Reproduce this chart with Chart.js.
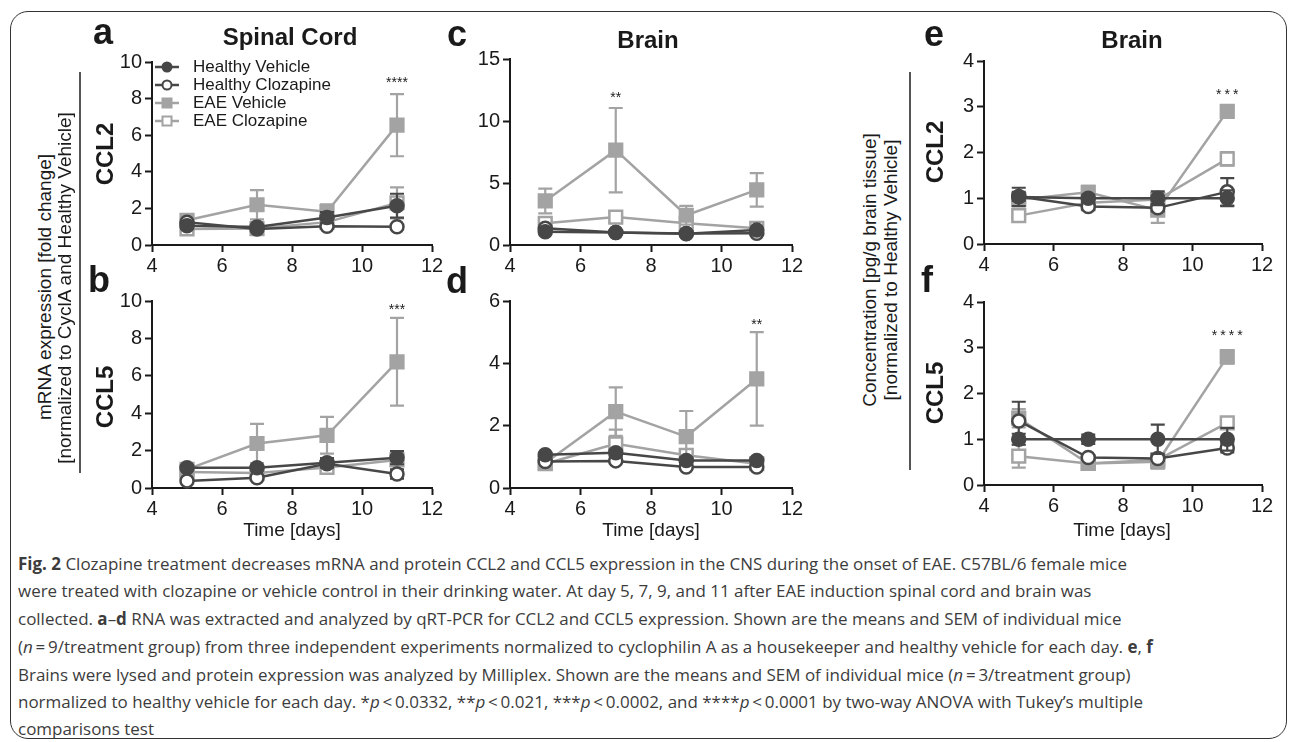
<!DOCTYPE html>
<html>
<head>
<meta charset="utf-8">
<script src="https://cdn.jsdelivr.net/npm/chart.js@4.4.1/dist/chart.umd.min.js"></script>
<style>
  body { margin: 0; background: #fff; width: 1293px; height: 742px; overflow: hidden; position: relative;
         font-family: "Liberation Sans", Arial, sans-serif; color: #1a1a1a; }
  .frame { position: absolute; left: 10px; top: 11px; width: 1275px; height: 726px;
           border: 1.5px solid #333; border-radius: 18px; }
  canvas.panel { position: absolute; }
  .t { position: absolute; white-space: nowrap; line-height: 1; }
  .letter { font-weight: bold; font-size: 36px; }
  .title { font-weight: bold; font-size: 24px; transform: translateX(-50%); }
  .rot { transform: translate(-50%, -50%) rotate(-90deg); }
  .ccl { font-weight: bold; font-size: 24px; }
  .side { font-size: 19px; }
  .time { font-size: 19px; transform: translate(-50%, -50%); }
  .vline { position: absolute; width: 1.5px; background: #555; }
  .cap { position: absolute; left: 18px; white-space: nowrap; line-height: 1;
         font-family: "Open Sans", "Noto Sans", sans-serif; font-size: 17px; color: #3c3c3c;
         transform-origin: 0 50%; }
</style>
</head>
<body>
<div class="frame"></div>

<canvas class="panel" id="pa"></canvas>
<canvas class="panel" id="pb"></canvas>
<canvas class="panel" id="pc"></canvas>
<canvas class="panel" id="pd"></canvas>
<canvas class="panel" id="pe"></canvas>
<canvas class="panel" id="pf"></canvas>

<div class="t letter" style="left:93px; top:14px;">a</div>
<div class="t letter" style="left:88px; top:262px;">b</div>
<div class="t letter" style="left:447px; top:16px;">c</div>
<div class="t letter" style="left:446px; top:263px;">d</div>
<div class="t letter" style="left:924px; top:16px;">e</div>
<div class="t letter" style="left:921px; top:262px;">f</div>

<div class="t title" style="left:290px; top:25px;">Spinal Cord</div>
<div class="t title" style="left:648px; top:28px;">Brain</div>
<div class="t title" style="left:1132px; top:28px;">Brain</div>

<div class="t ccl rot" style="left:105px; top:154px;">CCL2</div>
<div class="t ccl rot" style="left:105px; top:397px;">CCL5</div>
<div class="t ccl rot" style="left:935px; top:152px;">CCL2</div>
<div class="t ccl rot" style="left:935px; top:393px;">CCL5</div>

<div class="t side rot" style="left:44px; top:287px;">mRNA expression [fold change]</div>
<div class="t side rot" style="left:64px; top:288px;">[normalized to CyclA and Healthy Vehicle]</div>
<div class="vline" style="left:79px; top:72px; height:401px;"></div>

<div class="t side rot" style="left:869px; top:270px;">Concentration [pg/g brain tissue]</div>
<div class="t side rot" style="left:890px; top:270px;">[normalized to Healthy Vehicle]</div>
<div class="vline" style="left:909px; top:72px; height:398px;"></div>

<div class="t time" style="left:292px; top:529px;">Time [days]</div>
<div class="t time" style="left:651px; top:529px;">Time [days]</div>
<div class="t time" style="left:1122px; top:529px;">Time [days]</div>

<div class="cap" style="top:555px;"><b>Fig. 2</b> Clozapine treatment decreases mRNA and protein CCL2 and CCL5 expression in the CNS during the onset of EAE. C57BL/6 female mice</div>
<div class="cap" style="top:582px;">were treated with clozapine or vehicle control in their drinking water. At day 5, 7, 9, and 11 after EAE induction spinal cord and brain was</div>
<div class="cap" style="top:610px;">collected. <b>a</b>–<b>d</b> RNA was extracted and analyzed by qRT-PCR for CCL2 and CCL5 expression. Shown are the means and SEM of individual mice</div>
<div class="cap" style="top:638px;">(<i>n</i>&#8201;=&#8201;9/treatment group) from three independent experiments normalized to cyclophilin A as a housekeeper and healthy vehicle for each day. <b>e</b>, <b>f</b></div>
<div class="cap" style="top:666px;">Brains were lysed and protein expression was analyzed by Milliplex. Shown are the means and SEM of individual mice (<i>n</i>&#8201;=&#8201;3/treatment group)</div>
<div class="cap" style="top:693px;">normalized to healthy vehicle for each day. *<i>p</i>&#8201;&lt;&#8201;0.0332, **<i>p</i>&#8201;&lt;&#8201;0.021, ***<i>p</i>&#8201;&lt;&#8201;0.0002, and ****<i>p</i>&#8201;&lt;&#8201;0.0001 by two-way ANOVA with Tukey’s multiple</div>
<div class="cap" style="top:720px;">comparisons test</div>

<script>
const days = [5, 7, 9, 11];
const seriesNames = ["Healthy Vehicle", "Healthy Clozapine", "EAE Vehicle", "EAE Clozapine"];

// means per series (rows follow seriesNames)
const spinalCcl2 = [
  [1.05, 0.98, 1.5, 2.15],
  [1.25, 0.88, 1.02, 1.0],
  [1.35, 2.2, 1.82, 6.55],
  [0.88, 0.9, 1.25, 2.3]
];
const spinalCcl2Sem = [
  [0.15, 0.1, 0.3, 0.65],
  [0.1, 0.08, 0.1, 0.08],
  [0.2, 0.8, 0.4, 1.7],
  [0.1, 0.1, 0.15, 0.85]
];
const spinalCcl5 = [
  [1.08, 1.08, 1.35, 1.62],
  [0.38, 0.55, 1.3, 0.75],
  [1.0, 2.38, 2.82, 6.75],
  [0.85, 0.8, 1.1, 1.5]
];
const spinalCcl5Sem = [
  [0.1, 0.1, 0.25, 0.35],
  [0.05, 0.08, 0.2, 0.25],
  [0.1, 1.05, 0.98, 2.35],
  [0.1, 0.1, 0.15, 0.3]
];
const brainCcl2 = [
  [1.07, 1.0, 0.9, 1.2],
  [1.35, 1.0, 0.92, 0.95],
  [3.55, 7.65, 2.4, 4.45],
  [1.75, 2.25, 1.75, 1.35]
];
const brainCcl2Sem = [
  [0.1, 0.1, 0.1, 0.1],
  [0.1, 0.1, 0.1, 0.1],
  [1.0, 3.4, 0.75, 1.35],
  [0.2, 0.45, 0.3, 0.15]
];
const brainCcl5 = [
  [1.07, 1.13, 0.88, 0.88],
  [0.85, 0.87, 0.67, 0.67],
  [0.8, 2.45, 1.65, 3.5],
  [0.78, 1.42, 1.05, 0.78]
];
const brainCcl5Sem = [
  [0.05, 0.1, 0.1, 0.05],
  [0.05, 0.05, 0.05, 0.05],
  [0.1, 0.78, 0.82, 1.5],
  [0.1, 0.45, 0.2, 0.05]
];
const proteinCcl2 = [
  [1.03, 1.0, 1.0, 1.0],
  [1.04, 0.82, 0.79, 1.14],
  [0.97, 1.13, 0.74, 2.9],
  [0.62, 0.9, 0.97, 1.86]
];
const proteinCcl2Sem = [
  [0.2, 0.08, 0.15, 0.17],
  [0.1, 0.08, 0.08, 0.3],
  [0.08, 0.14, 0.28, 0.07],
  [0.05, 0.05, 0.05, 0.15]
];
const proteinCcl5 = [
  [1.0, 1.0, 1.0, 1.0],
  [1.4, 0.6, 0.58, 0.81],
  [1.46, 0.47, 0.51, 2.8],
  [0.63, 0.47, 0.55, 1.36]
];
const proteinCcl5Sem = [
  [0.12, 0.1, 0.32, 0.25],
  [0.42, 0.05, 0.05, 0.1],
  [0.2, 0.05, 0.15, 0.15],
  [0.25, 0.05, 0.1, 0.05]
];

// significance marks: text, day, y value
const starText = ["****", "***", "**", "**", "***", "****"];
const starDay = [11, 11, 7, 11, 11, 11];
const starValue = [8.85, 9.5, 11.85, 5.23, 3.26, 3.26];

const yMaxima = [10, 10, 15, 6, 4, 4];
const ySteps = [2, 2, 5, 2, 1, 1];

// styles
const DARK = "#474747", LIGHT = "#a3a3a3";
const lineColors = [DARK, DARK, LIGHT, LIGHT];
const fillColors = [DARK, "#ffffff", LIGHT, "#ffffff"];
const shapes = ["circle", "circle", "rect", "rect"];

const panels = [
  { id: "pa", area: [152, 62, 432, 245], means: spinalCcl2, sems: spinalCcl2Sem, legend: true },
  { id: "pb", area: [152, 301, 432, 488], means: spinalCcl5, sems: spinalCcl5Sem },
  { id: "pc", area: [510, 59, 792, 245], means: brainCcl2, sems: brainCcl2Sem },
  { id: "pd", area: [510, 301, 792, 488], means: brainCcl5, sems: brainCcl5Sem },
  { id: "pe", area: [984, 61, 1262, 244], means: proteinCcl2, sems: proteinCcl2Sem, starGap: 3 },
  { id: "pf", area: [984, 302, 1262, 485], means: proteinCcl5, sems: proteinCcl5Sem, starGap: 3 }
];

const PAD_L = 60, PAD_T = 25, PAD_R = 20, PAD_B = 35;

const errorBars = {
  id: "errorBars",
  beforeDatasetDraw(chart, args) {
    const ds = chart.data.datasets[args.index];
    const xs = chart.scales.x, ys = chart.scales.y;
    const ctx = chart.ctx;
    ctx.save();
    ctx.strokeStyle = ds.borderColor;
    ctx.lineWidth = 2.2;
    ds.data.forEach((p, j) => {
      const e = ds.sem[j];
      const x = xs.getPixelForValue(p.x);
      const y1 = ys.getPixelForValue(p.y + e);
      const y2 = ys.getPixelForValue(p.y - e);
      ctx.beginPath();
      ctx.moveTo(x, y1); ctx.lineTo(x, y2);
      ctx.moveTo(x - 7, y1); ctx.lineTo(x + 7, y1);
      ctx.moveTo(x - 7, y2); ctx.lineTo(x + 7, y2);
      ctx.stroke();
    });
    ctx.restore();
  }
};

const stars = {
  id: "stars",
  afterDatasetsDraw(chart, args, opts) {
    const i = opts.index;
    const ctx = chart.ctx;
    ctx.save();
    ctx.fillStyle = "#1a1a1a";
    ctx.font = "14px 'Liberation Sans', Arial";
    ctx.textAlign = "center";
    ctx.textBaseline = "middle";
    const gap = panels[i].starGap || 0;
    ctx.letterSpacing = gap + "px";
    ctx.fillText(starText[i], chart.scales.x.getPixelForValue(starDay[i]) + gap / 2,
                 chart.scales.y.getPixelForValue(starValue[i]));
    ctx.restore();
  }
};

const legendBox = {
  id: "legendBox",
  afterDatasetsDraw(chart) {
    const ctx = chart.ctx;
    const ox = chart.chartArea.left, oy = chart.chartArea.top;
    const rows = [5, 23, 41, 59];
    ctx.save();
    ctx.font = "17px 'Liberation Sans', Arial";
    ctx.textBaseline = "middle";
    seriesNames.forEach((name, i) => {
      const y = oy + rows[i];
      ctx.strokeStyle = lineColors[i];
      ctx.lineWidth = 2.5;
      ctx.beginPath();
      ctx.moveTo(ox + 3, y); ctx.lineTo(ox + 27, y);
      ctx.stroke();
      ctx.fillStyle = fillColors[i];
      ctx.lineWidth = 2;
      ctx.beginPath();
      if (shapes[i] === "circle") ctx.arc(ox + 15, y, 4.5, 0, Math.PI * 2);
      else ctx.rect(ox + 10.5, y - 4.5, 9, 9);
      ctx.fill(); ctx.stroke();
      ctx.fillStyle = "#1a1a1a";
      ctx.fillText(name, ox + 41, y);
    });
    ctx.restore();
  }
};

panels.forEach((p, i) => {
  const [l, t, r, b] = p.area;
  const canvas = document.getElementById(p.id);
  const w = r - l + PAD_L + PAD_R, h = b - t + PAD_T + PAD_B;
  canvas.width = w; canvas.height = h;
  canvas.style.left = (l - PAD_L) + "px";
  canvas.style.top = (t - PAD_T) + "px";

  const datasets = seriesNames.map((name, k) => ({
    label: name,
    data: days.map((d, j) => ({ x: d, y: p.means[k][j] })),
    sem: p.sems[k],
    showLine: true,
    borderColor: lineColors[k],
    borderWidth: 2.5,
    pointStyle: shapes[k],
    pointRadius: shapes[k] === "rect" ? 9 : 6.5,
    pointBackgroundColor: fillColors[k],
    pointBorderColor: lineColors[k],
    pointBorderWidth: 2.5,
    clip: false
  }));

  const chartPlugins = [errorBars, stars];
  if (p.legend) chartPlugins.push(legendBox);

  new Chart(canvas.getContext("2d"), {
    type: "scatter",
    data: { datasets },
    options: {
      responsive: false,
      animation: false,
      devicePixelRatio: 1,
      layout: { padding: { left: 0, top: PAD_T, right: PAD_R, bottom: 0 } },
      plugins: { legend: { display: false }, tooltip: { enabled: false }, stars: { index: i } },
      scales: {
        x: {
          type: "linear", min: 4, max: 12,
          ticks: { stepSize: 2, padding: 2, color: "#1a1a1a",
                   font: { family: "'Liberation Sans', Arial", size: 20 } },
          grid: { drawOnChartArea: false, drawTicks: true, tickLength: 7, tickWidth: 2, color: "#1a1a1a" },
          border: { display: true, color: "#1a1a1a", width: 2 },
          afterFit: s => { s.height = PAD_B; }
        },
        y: {
          min: 0, max: yMaxima[i],
          ticks: { stepSize: ySteps[i], padding: 3, color: "#1a1a1a",
                   font: { family: "'Liberation Sans', Arial", size: 20 } },
          grid: { drawOnChartArea: false, drawTicks: true, tickLength: 7, tickWidth: 2, color: "#1a1a1a" },
          border: { display: true, color: "#1a1a1a", width: 2 },
          afterFit: s => { s.width = PAD_L; }
        }
      }
    },
    plugins: chartPlugins
  });
});

// fit caption lines to the width of the original first line
const capLines = document.querySelectorAll(".cap");
const firstW = capLines[0].getBoundingClientRect().width;
const factor = 1109 / firstW;
capLines.forEach(el => { el.style.transform = "scaleX(" + factor + ")"; });
</script>
</body>
</html>
